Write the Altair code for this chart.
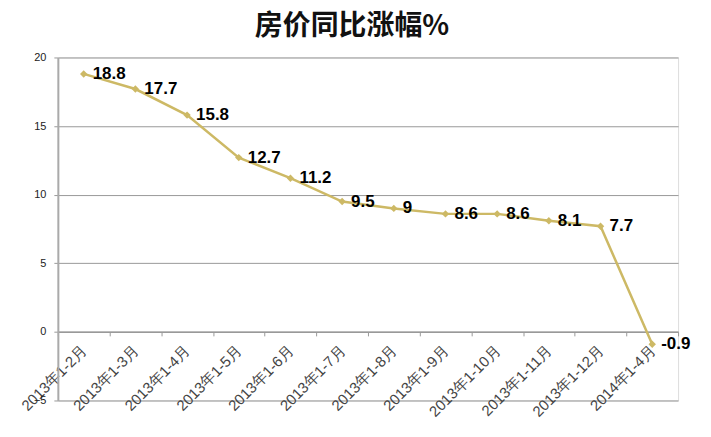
import altair as alt
import pandas as pd

categories = ["2013年1-2月", "2013年1-3月", "2013年1-4月", "2013年1-5月", "2013年1-6月",
              "2013年1-7月", "2013年1-8月", "2013年1-9月", "2013年1-10月", "2013年1-11月",
              "2013年1-12月", "2014年1-4月"]
values = [18.8, 17.7, 15.8, 12.7, 11.2, 9.5, 9, 8.6, 8.6, 8.1, 7.7, -0.9]
labels = ["18.8", "17.7", "15.8", "12.7", "11.2", "9.5", "9", "8.6", "8.6", "8.1", "7.7", "-0.9"]
y_ticks = [-5, 0, 5, 10, 15, 20]

df = pd.DataFrame({"cat": categories, "val": values, "lab": labels})

W, H = 622, 344
LINE = "#CDB965"

x = alt.X("cat:N", sort=categories, title=None,
          scale=alt.Scale(paddingInner=0, paddingOuter=0),
          axis=alt.Axis(offset=-(H * 5 / 25), labelAngle=-45, labelAlign="right",
                        labelBaseline="middle", labelPadding=12, labelFontSize=15,
                        labelFont="Liberation Sans", labelColor="#444",
                        tickBand="extent", tickSize=4, tickColor="#999",
                        domainColor="#999", domainWidth=1.5, grid=False,
                        labelOverlap=False))
y = alt.Y("val:Q", title=None,
          scale=alt.Scale(domain=[-5, 20], nice=False, zero=False),
          axis=alt.Axis(values=y_ticks, labelFontSize=11, labelFont="Liberation Sans",
                        labelColor="#222", tickSize=4, tickColor="#999", labelPadding=8,
                        domainColor="#aaa", domainWidth=2, gridColor="#999",
                        gridWidth=1))

base = alt.Chart(df).encode(x=x, y=y)
line = base.mark_line(color=LINE, strokeWidth=2.5)
pts = base.mark_point(shape="diamond", filled=True, color=LINE, size=55, opacity=1)
txt = base.mark_text(align="left", baseline="middle", dx=9, fontSize=17,
                     fontWeight="bold", font="Liberation Sans", color="#000").encode(text="lab:N")

chart = alt.layer(line, pts, txt).properties(
    width=W, height=H,
    title=alt.TitleParams("房价同比涨幅%", font="Noto Sans CJK SC", fontSize=28,
                          fontWeight="bold", color="#111", anchor="middle", dx=-16, offset=11),
    autosize=alt.AutoSizeParams(type="none"),
    padding={"left": 50, "top": 49, "right": 25, "bottom": 28},
).configure_view(stroke=None).configure(background="white")

chart.save("out.html", embed_options={"renderer": "svg", "actions": False})
